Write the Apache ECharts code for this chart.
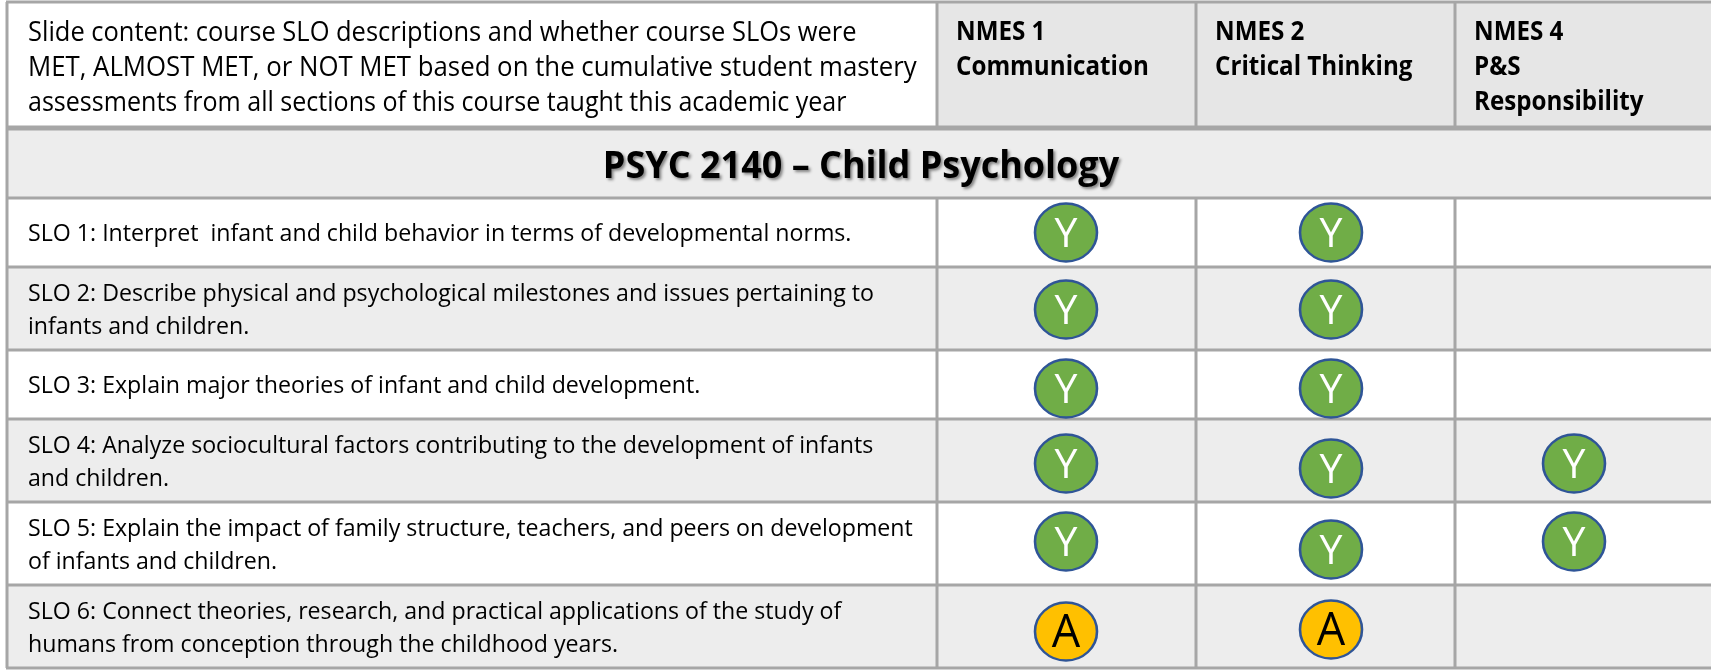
<!DOCTYPE html>
<html>
<head>
<meta charset="utf-8">
<title>PSYC 2140 SLO table</title>
<script src="https://cdn.jsdelivr.net/npm/echarts@6/dist/echarts.min.js"></script>
<style>
  html, body { margin: 0; padding: 0; background: #fff; }
  #main { width: 1711px; height: 670px; }
</style>
</head>
<body>
<div id="main"></div>
<script>
// table content
const introLines = [
    'Slide content: course SLO descriptions and whether course SLOs were',
    'MET, ALMOST MET, or NOT MET based on the cumulative student mastery',
    'assessments from all sections of this course taught this academic year'
];
const columnHeads = [
    ['NMES 1', 'Communication'],
    ['NMES 2', 'Critical Thinking'],
    ['NMES 4', 'P&S', 'Responsibility']
];
const courseTitle = 'PSYC 2140 \u2013 Child Psychology';
const sloLines = [
    ['SLO 1: Interpret  infant and child behavior in terms of developmental norms.'],
    ['SLO 2: Describe physical and psychological milestones and issues pertaining to', 'infants and children.'],
    ['SLO 3: Explain major theories of infant and child development.'],
    ['SLO 4: Analyze sociocultural factors contributing to the development of infants', 'and children.'],
    ['SLO 5: Explain the impact of family structure, teachers, and peers on development', 'of infants and children.'],
    ['SLO 6: Connect theories, research, and practical applications of the study of', 'humans from conception through the childhood years.']
];
// Y = met, A = almost met, '' = not mapped
const nmes1 = ['Y', 'Y', 'Y', 'Y', 'Y', 'A'];
const nmes2 = ['Y', 'Y', 'Y', 'Y', 'Y', 'A'];
const nmes4 = ['', '', '', 'Y', 'Y', ''];

// layout, in page pixels (the axes below run 0-1711 and 0-670)
const colEdges = [7, 937, 1196, 1455, 1711];
const rowEdges = [2, 128, 198, 267, 350, 419, 502, 585, 668];
const markX = [1066, 1331, 1574];
const markNudge = [
    [0, 0, 0], [1, 1, 0], [4, 4, 0],
    [3, 8, 3], [-2, 6, -2], [5, 3, 0]
];
const introScale = [0.943, 0.955, 0.928];

const lineColor = '#a6a6a6';
const rowFill = '#ededed';

function rect(x0, y0, x1, y1, fill, api) {
    const a = api.coord([x0, y0]), b = api.coord([x1, y1]);
    return { type: 'rect', shape: { x: a[0], y: a[1], width: b[0] - a[0], height: b[1] - a[1] }, style: { fill: fill } };
}
function rule(x0, y0, x1, y1, width, api) {
    const a = api.coord([x0, y0]), b = api.coord([x1, y1]);
    return { type: 'line', shape: { x1: a[0], y1: a[1], x2: b[0], y2: b[1] }, style: { stroke: lineColor, lineWidth: width } };
}
// the source font is narrower than Open Sans, hence scaleX
function label(text, x, y, size, bold, scaleX, api) {
    const p = api.coord([x, y]);
    return {
        type: 'text', x: p[0], y: p[1], scaleX: scaleX, z2: 5,
        style: {
            text: text, fill: '#000', font: (bold ? 'bold ' : '') + size + 'px "Open Sans"',
            textAlign: 'left', textVerticalAlign: 'middle'
        }
    };
}

function drawTable(params, api) {
    const kids = [];
    // fills
    kids.push(rect(colEdges[1], rowEdges[0], colEdges[4], rowEdges[1], '#e6e6e6', api));
    kids.push(rect(colEdges[0], rowEdges[1], colEdges[4], rowEdges[2], rowFill, api));
    sloLines.forEach((s, i) => {
        if (i % 2 === 1) kids.push(rect(colEdges[0], rowEdges[i + 2], colEdges[4], rowEdges[i + 3], rowFill, api));
    });
    // rules
    rowEdges.forEach((y, i) => {
        kids.push(rule(colEdges[0] - 1, y, colEdges[4], y, i === 1 ? 5 : 3, api));
    });
    kids.push(rule(colEdges[0], rowEdges[0], colEdges[0], rowEdges[8], 3, api));
    colEdges.slice(1, 4).forEach(x => {
        kids.push(rule(x, rowEdges[0], x, rowEdges[1], 3, api));
        kids.push(rule(x, rowEdges[2], x, rowEdges[8], 3, api));
    });
    // texts
    introLines.forEach((t, i) => kids.push(label(t, 28, 33 + i * 35, 27, false, introScale[i], api)));
    columnHeads.forEach((lines, c) => {
        lines.forEach((t, i) => kids.push(label(t, colEdges[c + 1] + 19, 33 + i * 35, 26, true, 0.93, api)));
    });
    const mid = api.coord([861, 167]);
    kids.push({
        type: 'text', x: mid[0], y: mid[1], scaleX: 0.947, z2: 5,
        style: {
            text: courseTitle, fill: '#000', font: 'bold 38px "Open Sans"',
            textAlign: 'center', textVerticalAlign: 'middle',
            textShadowColor: 'rgba(0,0,0,0.45)', textShadowBlur: 3, textShadowOffsetX: 2, textShadowOffsetY: 2
        }
    });
    sloLines.forEach((lines, i) => {
        const cy = (rowEdges[i + 2] + rowEdges[i + 3]) / 2 + 2;
        lines.forEach((t, k) => {
            kids.push(label(t, 28, cy + (k - (lines.length - 1) / 2) * 33, 24.5, false, 0.945, api));
        });
    });
    return { type: 'group', children: kids };
}

function marksFor(status) {
    const out = [];
    [nmes1, nmes2, nmes4].forEach((col, c) => {
        col.forEach((v, r) => {
            if (v === status) out.push([markX[c], (rowEdges[r + 2] + rowEdges[r + 3]) / 2 + markNudge[r][c]]);
        });
    });
    return out;
}
function markSeries(status, fill, textColor, letterSize) {
    return {
        type: 'scatter', data: marksFor(status), symbol: 'circle', symbolSize: [62, 58], z: 3,
        itemStyle: { color: fill, borderColor: '#2f5597', borderWidth: 2.5, opacity: 1 },
        label: {
            show: true, position: 'inside', offset: [0, 3], formatter: status, color: textColor,
            fontFamily: 'Open Sans', fontSize: letterSize, fontWeight: 'normal'
        },
        silent: true
    };
}

const chart = echarts.init(document.getElementById('main'), null, { renderer: 'canvas' });
chart.setOption({
    animation: false,
    backgroundColor: '#fff',
    grid: { left: 0, right: 0, top: 0, bottom: 0 },
    xAxis: { type: 'value', min: 0, max: 1711, show: false },
    yAxis: { type: 'value', min: 0, max: 670, inverse: true, show: false },
    series: [
        { type: 'custom', data: [[0, 0]], renderItem: drawTable, clip: false, silent: true, z: 1 },
        markSeries('Y', '#70ad47', '#fff', 41),
        markSeries('A', '#ffc000', '#000', 45)
    ]
});
</script>
</body>
</html>
